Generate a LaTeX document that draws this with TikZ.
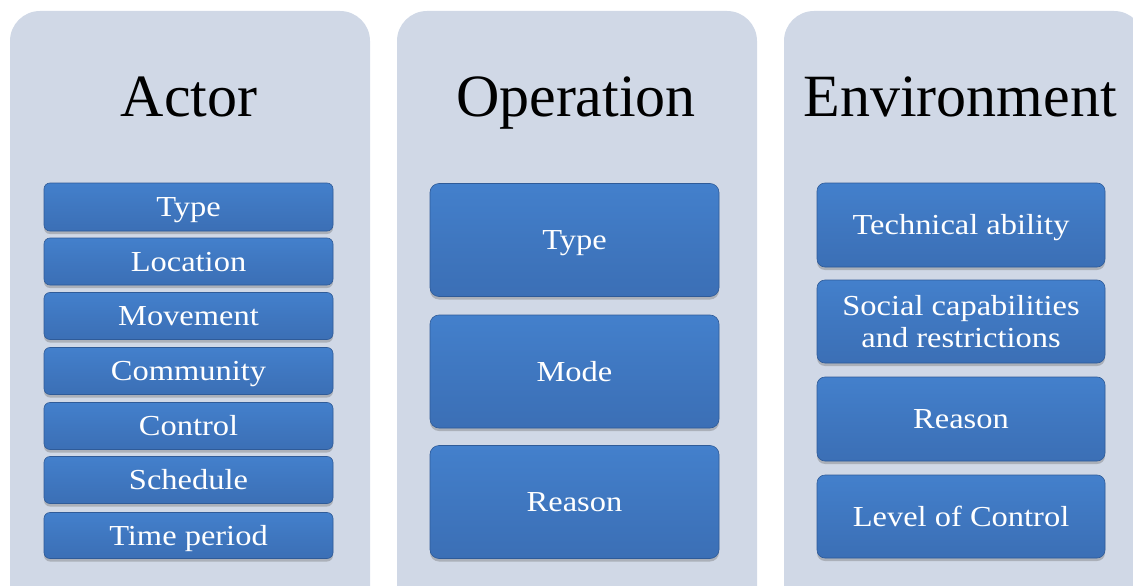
\documentclass[tikz,border=0pt]{standalone}
\usepackage{fontspec}
\setmainfont{Liberation Serif}
\newfontfamily\boxfont[FakeStretch=1.12]{Liberation Serif}
\usetikzlibrary{shadows}
\definecolor{panelc}{HTML}{D0D8E6}
\definecolor{edgehi}{HTML}{7DB8F7}
\definecolor{bodytop}{HTML}{4686D4}
\definecolor{bodybot}{HTML}{3868AC}
\definecolor{edgelo}{HTML}{2A528A}
\definecolor{boxline}{HTML}{2F5B98}
\pgfdeclareverticalshading{boxshade}{100bp}{color(0bp)=(edgelo); color(3bp)=(bodybot); color(50bp)=(bodybot!50!bodytop); color(92bp)=(bodytop); color(96bp)=(edgehi); color(100bp)=(bodytop)}
\tikzset{
  panel/.style={fill=panelc, rounded corners=30pt},
  ttl/.style={font=\fontsize{60}{66}\selectfont, text=black, anchor=base},
  item/.style={draw=boxline, line width=0.6pt, shading=boxshade, rounded corners=6pt,
    minimum width=289pt, text=white, align=center,
    font=\boxfont\fontsize{29}{32}\selectfont, inner sep=0pt,
    text height=19pt, text depth=0pt,
    drop shadow={opacity=0.35, shadow xshift=0pt, shadow yshift=-3pt, fill=black!60}},
}
\begin{document}
\begin{tikzpicture}[x=1pt,y=-1pt]
\useasboundingbox (0,0) rectangle (1133,586);
\clip (0,0) rectangle (1133,586);
% panels
\fill[panel] (10,11) rectangle (370,620);
\fill[panel] (397,11) rectangle (757,620);
\fill[panel] (784,11) rectangle (1144,620);
% titles
\node[ttl] (tA) at (189,117) {Actor};
\node[ttl] (tO) at (576,117) {Operation};
\node[ttl] (tE) at (960,117) {Environment};
% Actor items
\node[item, minimum height=48pt] (a1) at (188.5,207) {Type};
\node[item, minimum height=47pt] (a2) at (188.5,261.5) {Location};
\node[item, minimum height=47pt] (a3) at (188.5,316) {Movement};
\node[item, minimum height=47pt] (a4) at (188.5,371) {Community};
\node[item, minimum height=47pt] (a5) at (188.5,426) {Control};
\node[item, minimum height=47pt] (a6) at (188.5,480) {Schedule};
\node[item, minimum height=46pt] (a7) at (188.5,535.5) {Time period};
% Operation items
\node[item, minimum height=113pt, rounded corners=9pt] (o1) at (574.5,240) {Type};
\node[item, minimum height=113pt, rounded corners=9pt] (o2) at (574.5,371.5) {Mode};
\node[item, minimum height=113pt, rounded corners=9pt] (o3) at (574.5,502) {Reason};
% Environment items
\node[item, minimum height=84pt, minimum width=288pt, rounded corners=8pt] (e1) at (961,225) {Technical ability};
\node[item, minimum height=83pt, minimum width=288pt, rounded corners=8pt, text height=] (e2) at (961,321.5) {Social capabilities\\and restrictions};
\node[item, minimum height=84pt, minimum width=288pt, rounded corners=8pt] (e3) at (961,419) {Reason};
\node[item, minimum height=83pt, minimum width=288pt, rounded corners=8pt] (e4) at (961,516.5) {Level of Control};
\end{tikzpicture}
\end{document}
